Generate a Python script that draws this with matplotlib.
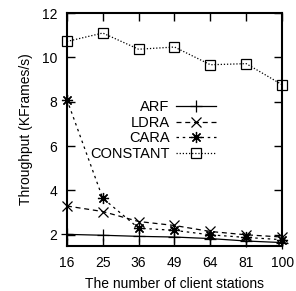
import matplotlib
matplotlib.use('Agg')
import matplotlib.pyplot as plt
import numpy as np

## Number of client stations (categorical axis)
stations = ['16', '25', '36', '49', '64', '81', '100']

## Throughput in KFrames/s
arf = [2.02, 1.98, 1.93, 1.9, 1.83, 1.72, 1.65]
ldra = [3.3, 3.05, 2.6, 2.42, 2.15, 2.0, 1.9]
cara = [8.1, 3.65, 2.3, 2.2, 2.0, 1.88, 1.78]
constant = [10.72, 11.1, 10.37, 10.47, 9.67, 9.72, 8.77]

plt.rcParams['font.family'] = ['Liberation Sans', 'DejaVu Sans']
plt.rcParams['font.size'] = 10

fig = plt.figure(figsize=(2.96, 2.91), dpi=100)
ax = fig.add_axes([0.226, 0.155, 0.727, 0.80])

x = np.arange(len(stations))
asterisk = (8, 2, 0)  ## plus and cross together, gnuplot style

ax.plot(x, arf, color='k', ls='-', lw=0.9, marker='+', ms=8, mew=0.9, label='ARF', clip_on=False)
ax.plot(x, ldra, color='k', ls=(0, (4, 3)), lw=0.9, marker='x', ms=7, mew=0.9, label='LDRA', clip_on=False)
ax.plot(x, cara, color='k', ls=(0, (2, 3)), lw=0.9, marker=asterisk, ms=8, mew=0.9, label='CARA', clip_on=False)
ax.plot(x, constant, color='k', ls=(0, (1, 1.5)), lw=0.9, marker='s', ms=7, mew=0.9,
        mfc='none', label='CONSTANT', clip_on=False)

## Tidy things up
ax.set_xlim(0, 6)
ax.set_ylim(1.5, 12)
ax.set_xticks(x)
ax.set_xticklabels(stations)
ax.set_yticks([2, 4, 6, 8, 10, 12])
ax.tick_params(direction='in', length=6, width=1, top=True, right=True, pad=7)
for s in ax.spines.values():
    s.set_linewidth(1.5)
ax.set_xlabel('The number of client stations', labelpad=5)
ax.set_ylabel('Throughput (KFrames/s)', labelpad=6)

ax.legend(loc='upper right', bbox_to_anchor=(0.695, 0.625), frameon=False, markerfirst=False,
          handlelength=2.8, labelspacing=0.1, handletextpad=0.4, borderaxespad=0, borderpad=0,
          fontsize=10.5)
for t in ax.get_legend().get_texts():
    t.set_ha('right')
ax.get_legend()._legend_box.align = 'right'

fig.savefig('out.png', dpi=100)
